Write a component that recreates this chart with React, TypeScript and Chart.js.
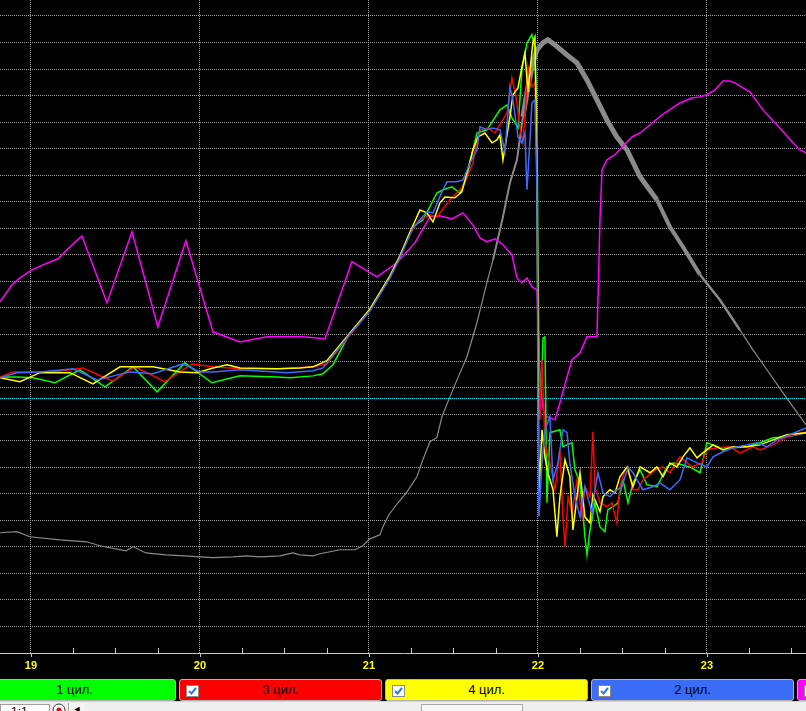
import React, { useEffect, useRef } from "react";
import { Chart, registerables } from "chart.js";

Chart.register(...registerables);

// ---- axis ranges / ticks ----
const X_MIN = 18.817;
const X_MAX = 23.586;
const Y_MIN = -3;
const Y_MAX = 21.6;
const X_TICKS = [19, 20, 21, 22, 23];
const X_MINOR = [19.25, 19.5, 19.75, 20.25, 20.5, 20.75, 21.25, 21.5, 21.75, 22.25, 22.5, 22.75, 23.25, 23.5];
const Y_GRID = [-2, -1, 0, 1, 2, 3, 4, 5, 6, 7, 8, 9, 10, 11, 12, 13, 14, 15, 16, 17, 18, 19, 20, 21];
const CYAN_LEVEL = 6.588;

// ---- series (x in axis units, y in grid units) ----
const GRAY: [number, number][] = [
  [18.817, 1.53], [18.917, 1.57], [18.994, 1.38], [19.172, 1.26], [19.331, 1.19], [19.408, 1.04], [19.562, 0.85],
  [19.604, 1.0], [19.68, 0.77], [19.799, 0.7], [19.911, 0.66], [20.0, 0.62], [20.077, 0.59], [20.195, 0.62],
  [20.272, 0.66], [20.355, 0.62], [20.473, 0.66], [20.55, 0.77], [20.592, 0.7], [20.669, 0.66], [20.71, 0.74],
  [20.828, 0.89], [20.917, 0.89], [20.964, 1.04], [21.006, 1.3], [21.065, 1.45], [21.083, 1.76], [21.118, 2.21],
  [21.172, 2.66], [21.225, 3.07], [21.284, 3.64], [21.314, 4.2], [21.361, 4.96], [21.402, 5.11], [21.432, 5.9],
  [21.467, 6.46], [21.521, 7.29], [21.58, 8.16], [21.639, 9.44], [21.698, 10.95], [21.734, 11.81], [21.793, 13.43],
  [21.834, 14.71], [21.876, 15.58], [21.911, 17.2], [21.941, 18.33], [21.97, 19.23], [21.994, 19.72], [22.03, 19.99],
  [22.059, 20.1], [22.101, 19.91], [22.172, 19.53], [22.231, 19.23], [22.29, 18.59], [22.349, 17.84], [22.408, 17.08],
  [22.467, 16.44], [22.527, 15.95], [22.604, 14.94], [22.704, 14.07], [22.781, 13.05], [22.858, 12.3], [22.959, 11.25],
  [23.077, 10.3], [23.195, 9.17], [23.272, 8.42], [23.355, 7.67], [23.45, 6.8], [23.509, 6.27], [23.586, 5.6],
];

const MAGENTA: [number, number][] = [
  [18.817, 10.23], [18.888, 10.87], [18.935, 11.13], [19.006, 11.43], [19.071, 11.62], [19.16, 11.85], [19.231, 12.3],
  [19.302, 12.71], [19.45, 10.19], [19.598, 12.87], [19.751, 9.29], [19.917, 12.53], [20.077, 9.1], [20.237, 8.72],
  [20.396, 8.91], [20.609, 8.91], [20.74, 8.84], [20.899, 11.74], [21.047, 11.17], [21.166, 11.7], [21.272, 12.45],
  [21.361, 13.43], [21.42, 13.47], [21.491, 13.35], [21.556, 13.58], [21.615, 13.13], [21.657, 12.64], [21.698, 12.49],
  [21.746, 12.6], [21.793, 12.38], [21.846, 12.0], [21.876, 11.13], [21.905, 10.95], [21.935, 11.13], [21.964, 10.79],
  [21.994, 10.68], [22.012, 7.29], [22.03, 6.2], [22.053, 5.9], [22.101, 5.79], [22.13, 6.43], [22.172, 7.4],
  [22.201, 8.04], [22.249, 8.31], [22.29, 8.91], [22.349, 8.91], [22.355, 10.3], [22.367, 13.32], [22.379, 15.2],
  [22.408, 15.58], [22.456, 15.77], [22.556, 16.44], [22.604, 16.59], [22.663, 16.9], [22.734, 17.27], [22.84, 17.72],
  [22.911, 17.91], [22.959, 17.95], [23.0, 18.03], [23.047, 18.21], [23.095, 18.55], [23.136, 18.55], [23.166, 18.48],
  [23.213, 18.29], [23.254, 18.14], [23.331, 17.46], [23.414, 16.9], [23.509, 16.22], [23.55, 15.95], [23.586, 15.84],
];

const CYL1_GREEN: [number, number][] = [
  [18.817, 7.4], [18.917, 7.4], [19.012, 7.37], [19.142, 7.18], [19.29, 7.67], [19.438, 7.03], [19.604, 7.78],
  [19.746, 6.84], [19.911, 7.93], [20.071, 7.18], [20.237, 7.44], [20.456, 7.4], [20.533, 7.37], [20.669, 7.44],
  [20.728, 7.52], [20.787, 7.86], [20.888, 9.06], [21.006, 9.92], [21.124, 11.17], [21.183, 11.92], [21.243, 12.83],
  [21.26, 13.05], [21.32, 13.32], [21.402, 14.33], [21.438, 14.45], [21.491, 14.56], [21.538, 14.33], [21.58, 14.94],
  [21.615, 15.95], [21.639, 16.59], [21.698, 16.71], [21.775, 17.46], [21.817, 17.65], [21.846, 17.16], [21.882, 16.78],
  [21.905, 18.97], [21.935, 19.98], [21.964, 20.29], [21.982, 19.83], [21.994, 17.2], [22.0, 12.19], [22.006, 8.04],
  [22.018, 6.54], [22.03, 8.86], [22.041, 8.91], [22.053, 2.66], [22.071, 5.3], [22.13, 5.41], [22.148, 4.77],
  [22.172, 4.84], [22.201, 4.92], [22.219, 3.9], [22.249, 3.41], [22.266, 2.28], [22.278, 1.38], [22.29, 0.7],
  [22.308, 1.64], [22.337, 2.66], [22.367, 1.75], [22.396, 1.57], [22.414, 2.4], [22.444, 2.51], [22.473, 2.66],
  [22.503, 3.52], [22.533, 2.66], [22.562, 3.41], [22.604, 3.9], [22.645, 3.34], [22.704, 3.26], [22.763, 4.01],
  [22.799, 4.16], [22.852, 4.09], [22.899, 4.01], [22.959, 3.79], [23.0, 4.92], [23.077, 4.73], [23.154, 4.73],
  [23.237, 4.77], [23.314, 4.92], [23.391, 5.11], [23.473, 5.15], [23.586, 5.3],
];

const CYL3_RED: [number, number][] = [
  [18.817, 7.4], [18.893, 7.59], [18.976, 7.59], [19.13, 7.59], [19.308, 7.74], [19.426, 7.4], [19.485, 7.25],
  [19.615, 7.78], [19.793, 7.22], [19.953, 7.89], [20.077, 7.78], [20.237, 7.71], [20.473, 7.71], [20.669, 7.78],
  [20.751, 7.89], [20.888, 8.98], [21.006, 9.89], [21.124, 11.13], [21.183, 11.89], [21.243, 12.79], [21.302, 13.32],
  [21.361, 13.51], [21.402, 13.43], [21.479, 14.07], [21.556, 14.56], [21.615, 15.46], [21.639, 16.33], [21.657, 16.71],
  [21.704, 16.78], [21.746, 16.59], [21.817, 17.35], [21.846, 18.67], [21.87, 17.95], [21.893, 16.82], [21.911, 16.22],
  [21.923, 17.2], [21.941, 19.08], [21.964, 18.33], [21.982, 18.48], [21.994, 16.59], [22.0, 9.17], [22.012, 5.79],
  [22.024, 8.04], [22.041, 5.03], [22.053, 4.54], [22.071, 4.16], [22.101, 3.15], [22.13, 4.65], [22.148, 2.13],
  [22.16, 1.0], [22.178, 2.89], [22.201, 2.28], [22.231, 3.52], [22.26, 2.13], [22.278, 3.26], [22.308, 2.89],
  [22.325, 5.33], [22.337, 3.26], [22.367, 2.66], [22.408, 2.51], [22.438, 2.66], [22.467, 1.9], [22.485, 3.26],
  [22.515, 3.9], [22.533, 4.01], [22.562, 3.15], [22.592, 3.15], [22.621, 3.52], [22.692, 3.9], [22.74, 4.01],
  [22.781, 3.79], [22.84, 4.39], [22.911, 4.01], [22.97, 4.16], [23.0, 4.65], [23.059, 4.73], [23.136, 4.77],
  [23.195, 4.54], [23.272, 4.77], [23.314, 4.65], [23.391, 4.84], [23.473, 5.15], [23.586, 5.33],
];

const CYL4_YELLOW: [number, number][] = [
  [18.817, 7.37], [18.935, 7.22], [19.053, 7.56], [19.231, 7.56], [19.367, 7.14], [19.527, 7.78], [19.722, 7.78],
  [19.882, 7.59], [19.982, 7.56], [20.077, 7.74], [20.16, 7.86], [20.237, 7.74], [20.456, 7.71], [20.592, 7.74],
  [20.669, 7.78], [20.751, 8.01], [20.888, 9.06], [21.006, 9.96], [21.124, 11.21], [21.183, 11.96], [21.243, 12.86],
  [21.302, 13.69], [21.343, 13.58], [21.379, 13.24], [21.42, 13.96], [21.45, 14.18], [21.509, 14.15], [21.55, 14.37],
  [21.58, 15.09], [21.615, 15.95], [21.645, 16.44], [21.686, 16.59], [21.728, 16.22], [21.757, 16.33], [21.775, 16.52],
  [21.793, 15.58], [21.834, 17.2], [21.852, 18.03], [21.882, 18.29], [21.905, 19.08], [21.923, 19.61], [21.941, 18.14],
  [21.97, 20.02], [21.982, 20.21], [21.994, 15.09], [22.0, 9.17], [22.006, 3.03], [22.024, 5.41], [22.041, 4.39],
  [22.059, 3.79], [22.089, 3.15], [22.112, 1.38], [22.13, 2.89], [22.16, 4.28], [22.189, 3.64], [22.207, 1.64],
  [22.249, 3.79], [22.278, 2.13], [22.308, 1.9], [22.325, 2.96], [22.367, 2.32], [22.385, 2.89], [22.426, 3.15],
  [22.456, 3.03], [22.485, 3.64], [22.527, 4.01], [22.562, 3.26], [22.604, 4.01], [22.663, 3.79], [22.704, 4.01],
  [22.74, 3.64], [22.781, 4.16], [22.822, 4.01], [22.858, 4.39], [22.899, 4.73], [22.941, 4.35], [22.976, 4.54],
  [23.036, 4.84], [23.095, 4.65], [23.154, 4.77], [23.237, 4.77], [23.314, 4.84], [23.391, 5.03], [23.473, 5.22],
  [23.586, 5.3],
];

const CYL2_BLUE: [number, number][] = [
  [18.817, 7.37], [18.917, 7.56], [19.053, 7.59], [19.249, 7.71], [19.391, 7.29], [19.586, 7.59], [19.722, 7.52],
  [19.899, 7.89], [20.0, 7.59], [20.077, 7.59], [20.237, 7.67], [20.515, 7.56], [20.669, 7.63], [20.728, 7.74],
  [20.888, 9.02], [21.006, 9.89], [21.124, 11.13], [21.183, 11.89], [21.26, 13.01], [21.343, 13.62], [21.379, 13.58],
  [21.432, 14.37], [21.462, 14.75], [21.521, 14.75], [21.556, 14.82], [21.598, 15.46], [21.639, 15.95], [21.657, 16.82],
  [21.698, 16.71], [21.734, 16.78], [21.775, 16.71], [21.805, 15.88], [21.834, 18.33], [21.852, 17.84], [21.882, 16.44],
  [21.905, 16.22], [21.923, 16.59], [21.935, 14.45], [21.953, 16.33], [21.964, 17.72], [21.982, 17.84], [21.994, 14.56],
  [22.0, 6.54], [22.006, 2.13], [22.024, 4.16], [22.041, 5.41], [22.071, 5.9], [22.089, 3.52], [22.118, 4.16],
  [22.148, 5.41], [22.172, 5.3], [22.189, 4.16], [22.219, 2.89], [22.249, 2.13], [22.278, 3.26], [22.32, 2.28],
  [22.337, 3.15], [22.355, 3.79], [22.385, 3.03], [22.426, 2.89], [22.467, 3.15], [22.497, 3.26], [22.533, 4.01],
  [22.562, 3.79], [22.621, 3.15], [22.68, 3.26], [22.722, 3.41], [22.781, 3.15], [22.84, 3.52], [22.882, 4.35],
  [22.941, 4.16], [23.0, 4.01], [23.036, 4.39], [23.095, 4.58], [23.154, 4.73], [23.237, 4.84], [23.296, 4.92],
  [23.355, 4.77], [23.414, 5.03], [23.491, 5.22], [23.586, 5.48],
];

// ---- legend ----
const LEGEND_LABELS = ["1 цил.", "3 цил.", "4 цил.", "2 цил.", ""];
const LEGEND_COLORS = ["#00ff00", "#ff0000", "#ffff00", "#3b6cf5", "#ff00ff"];

const W = 806;
const CANVAS_H = 678;
const PLOT_BOTTOM = 653;

function grayWidth(x: number): number {
  if (x >= 21.88 && x < 22.62) return 5;
  if (x >= 22.62 && x < 22.9) return 4;
  if (x >= 22.9 && x < 23.1) return 2.5;
  if (x >= 21.7 && x < 21.88) return 2;
  return 1.2;
}

export default function App() {
  const ref = useRef<HTMLCanvasElement>(null);

  useEffect(() => {
    const canvas = ref.current;
    if (!canvas) return;
    const pts = (a: [number, number][]) => a.map(([x, y]) => ({ x, y }));
    const line = (label: string, data: [number, number][], color: string, width: number, extra: any = {}) => ({
      label,
      data: pts(data),
      borderColor: color,
      backgroundColor: color,
      borderWidth: width,
      pointRadius: 0,
      pointHoverRadius: 0,
      tension: 0,
      fill: false,
      ...extra,
    });

    const axisTicks = {
      id: "axisTicks",
      afterDraw(chart: any) {
        const ctx = chart.ctx as CanvasRenderingContext2D;
        const xs = chart.scales.x;
        const bottom = chart.chartArea.bottom;
        ctx.save();
        ctx.strokeStyle = "#c8c8c8";
        ctx.lineWidth = 1;
        ctx.beginPath();
        for (const v of X_MINOR) {
          const p = Math.round(xs.getPixelForValue(v)) + 0.5;
          ctx.moveTo(p, bottom - 5);
          ctx.lineTo(p, bottom);
        }
        for (const v of X_TICKS) {
          const p = Math.round(xs.getPixelForValue(v)) + 0.5;
          ctx.moveTo(p, bottom);
          ctx.lineTo(p, bottom + 4);
        }
        ctx.stroke();
        ctx.restore();
      },
    };

    const chart = new Chart(canvas, {
      type: "line",
      data: {
        datasets: [
          line("2 цил.", CYL2_BLUE, "#3d6bff", 1.5),
          line("4 цил.", CYL4_YELLOW, "#ffff00", 1.5),
          line("3 цил.", CYL3_RED, "#ff0000", 1.5),
          line("1 цил.", CYL1_GREEN, "#00ff00", 1.5),
          line("magenta", MAGENTA, "#ff00ff", 1.5),
          line("level", [[X_MIN, CYAN_LEVEL], [X_MAX, CYAN_LEVEL]], "#00f0ff", 1, { borderDash: [1, 1] }),
          line("gray", GRAY, "#8a8a8a", 1.2, {
            segment: { borderWidth: (c: any) => grayWidth(c.p0.parsed.x) },
          }),
        ],
      },
      options: {
        animation: false,
        responsive: false,
        maintainAspectRatio: false,
        events: [],
        layout: { padding: 0 },
        plugins: { legend: { display: false }, tooltip: { enabled: false } },
        scales: {
          x: {
            type: "linear",
            min: X_MIN,
            max: X_MAX,
            afterBuildTicks: (s: any) => {
              s.ticks = X_TICKS.map((v) => ({ value: v }));
            },
            afterFit: (s: any) => {
              s.height = CANVAS_H - PLOT_BOTTOM;
            },
            grid: { color: "#a0a0a0", lineWidth: 1, drawTicks: false },
            border: { display: true, color: "#c8c8c8", width: 1, dash: [1, 1] },
            ticks: {
              color: "#ffff00",
              padding: 6,
              maxRotation: 0,
              autoSkip: false,
              font: { family: '"Liberation Sans", Arial, sans-serif', size: 11, weight: "bold" },
              callback: (v: any) => String(v),
            },
          },
          y: {
            type: "linear",
            min: Y_MIN,
            max: Y_MAX,
            afterBuildTicks: (s: any) => {
              s.ticks = Y_GRID.map((v) => ({ value: v }));
            },
            afterFit: (s: any) => {
              s.width = 0;
            },
            grid: { color: "#a0a0a0", lineWidth: 1, drawTicks: false },
            border: { display: false, dash: [1, 1] },
            ticks: { display: false },
          },
        },
      } as any,
      plugins: [axisTicks],
    });
    return () => chart.destroy();
  }, []);

  const font = '"Liberation Sans", Arial, sans-serif';

  return (
    <div style={{ position: "absolute", left: 0, top: 0, width: W, height: 711, background: "#000", overflow: "hidden" }}>
      <canvas ref={ref} width={W} height={CANVAS_H} style={{ display: "block", width: W, height: CANVAS_H }} />
      {LEGEND_LABELS.map((label, i) => {
        const left = -27 + i * 206;
        return (
          <div
            key={i}
            style={{
              position: "absolute",
              left,
              top: 679,
              width: 203,
              height: 22,
              boxSizing: "border-box",
              background: LEGEND_COLORS[i],
              border: "1px solid #b4b4b4",
              borderRadius: 3,
              fontFamily: font,
              fontSize: 13,
              lineHeight: "20px",
              textAlign: "center",
              color: "#000",
            }}
          >
            <svg width={13} height={12} style={{ position: "absolute", left: 6, top: 5 }}>
              <rect x={0.5} y={0.5} width={12} height={11} fill="#ffffff" stroke="#8a8a8a" />
              <polyline points="3,6 5.5,8.5 10,3" fill="none" stroke="#2a7ae2" strokeWidth={2} />
            </svg>
            {label}
          </div>
        );
      })}
      <div style={{ position: "absolute", left: 0, top: 701, width: W, height: 10, background: "#efefef", borderTop: "1px solid #d0d0d0" }}>
        <div style={{ position: "absolute", left: 0, top: 2, width: 50, height: 12, background: "#fff", border: "1px solid #a0a0a0", fontFamily: font, fontSize: 12, lineHeight: "14px", paddingLeft: 10, boxSizing: "border-box" }}>1:1</div>
        <svg width={16} height={10} style={{ position: "absolute", left: 52, top: 1 }}>
          <circle cx={7} cy={7} r={6} fill="#fff" stroke="#333" />
          <circle cx={7} cy={7} r={2.5} fill="#d01010" />
        </svg>
        <div style={{ position: "absolute", left: 68, top: 1, width: 16, height: 12, background: "#f4f4f4", borderLeft: "1px solid #a0a0a0", fontSize: 9, lineHeight: "12px", textAlign: "center", fontFamily: font }}>◄</div>
        <div style={{ position: "absolute", left: 421, top: 2, width: 102, height: 12, background: "#f7f7f7", border: "1px solid #a8a8a8", boxSizing: "border-box" }} />
      </div>
    </div>
  );
}
